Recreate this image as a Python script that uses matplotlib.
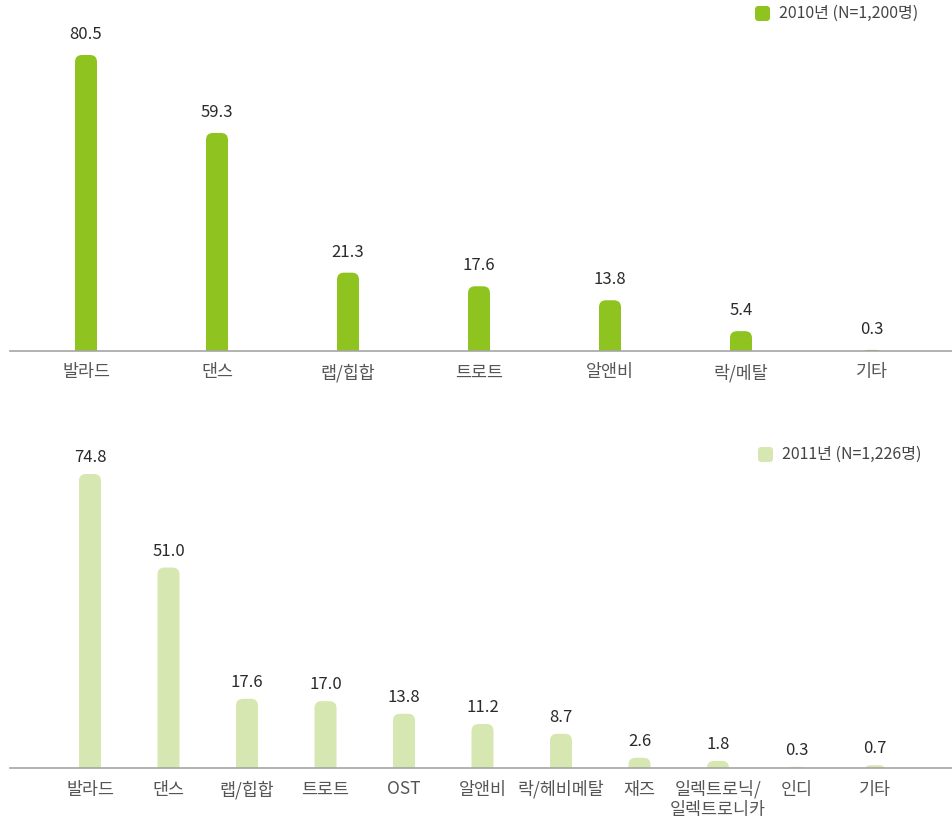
import matplotlib
matplotlib.use("Agg")
from matplotlib import pyplot as plt
from matplotlib.patches import FancyBboxPatch

plt.rcParams['font.family'] = ['Noto Sans CJK KR', 'DejaVu Sans']

# genre preference, percent of respondents
genres_2010 = ["발라드", "댄스", "랩/힙합", "트로트", "알앤비", "락/메탈", "기타"]
values_2010 = [80.5, 59.3, 21.3, 17.6, 13.8, 5.4, 0.3]
legend_2010 = "2010년 (N=1,200명)"

genres_2011 = ["발라드", "댄스", "랩/힙합", "트로트", "OST", "알앤비", "락/헤비메탈",
               "재즈", "일렉트로닉/\n일렉트로니카", "인디", "기타"]
values_2011 = [74.8, 51.0, 17.6, 17.0, 13.8, 11.2, 8.7, 2.6, 1.8, 0.3, 0.7]
legend_2011 = "2011년 (N=1,226명)"

DARK_GREEN = "#8fc31f"
LIGHT_GREEN = "#d6e7b1"
W, H = 952, 819

fig = plt.figure(figsize=(W / 100, H / 100), dpi=100)


def px_axes(left, top, right, bottom):
    return fig.add_axes([left / W, 1 - bottom / H, (right - left) / W, (bottom - top) / H])


def rounded_bars(ax, values, color, gap_px, width_px=22, radius_px=7):
    bb = ax.get_window_extent()
    x0, x1 = ax.get_xlim()
    y0, y1 = ax.get_ylim()
    xdpp = (x1 - x0) / bb.width
    ydpp = (y1 - y0) / bb.height
    w = width_px * xdpp
    r = radius_px * xdpp
    ry = radius_px * ydpp
    for i, v in enumerate(values):
        # start below the baseline so only the top corners show
        p = FancyBboxPatch((i - w / 2, -ry), w, v + ry,
                           boxstyle="round,pad=0,rounding_size=%f" % r,
                           mutation_aspect=ydpp / xdpp,
                           facecolor=color, edgecolor="none")
        ax.add_patch(p)
        ax.text(i, v + gap_px * ydpp, "%.1f" % v, ha="center", va="bottom",
                fontsize=12, color="#2a2a2a")


def style_axes(ax, labels):
    for s in ["top", "right", "left"]:
        ax.spines[s].set_visible(False)
    ax.spines["bottom"].set_color("#a6a6a6")
    ax.spines["bottom"].set_linewidth(1.2)
    ax.set_yticks([])
    ax.set_xticks(range(len(labels)))
    ax.set_xticklabels(labels, fontsize=12.5, color="#555555", linespacing=1.15)
    ax.tick_params(axis="x", length=0, pad=9)
    ax.patch.set_alpha(0)


def legend_box(x, y, color, text):
    # x, y are pixel coords of the marker's top-left corner
    fig.add_artist(FancyBboxPatch((x / 100, (H - y - 15) / 100), 0.15, 0.15,
                                  boxstyle="round,pad=0,rounding_size=0.035",
                                  transform=fig.dpi_scale_trans,
                                  facecolor=color, edgecolor="none"))
    fig.text((x + 24) / W, 1 - (y + 7.5) / H, text, ha="left", va="center",
             fontsize=11.5, color="#444444")


ax1 = px_axes(10, 0, 952, 351)
ax1.set_xlim(-76 / 131, 866 / 131)
ax1.set_ylim(0, 351 / 296 * 80.5)
style_axes(ax1, genres_2010)
rounded_bars(ax1, values_2010, DARK_GREEN, gap_px=12)
legend_box(755, 6, DARK_GREEN, legend_2010)

ax2 = px_axes(10, 420, 952, 768)
ax2.set_xlim(-80 / 78.5, 862 / 78.5)
ax2.set_ylim(0, 348 / 294 * 74.8)
style_axes(ax2, genres_2011)
rounded_bars(ax2, values_2011, LIGHT_GREEN, gap_px=8)
legend_box(758, 447, LIGHT_GREEN, legend_2011)

fig.savefig("out.png", dpi=100)
